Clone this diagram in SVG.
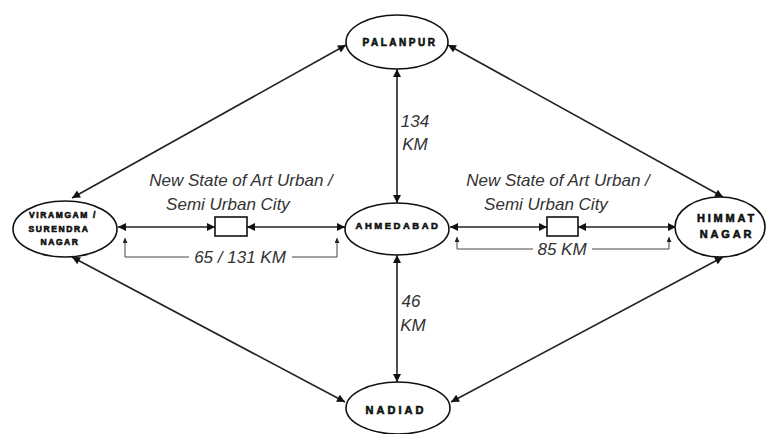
<svg xmlns="http://www.w3.org/2000/svg" width="768" height="434" viewBox="0 0 768 434">
<style>
.n{fill:#fff;stroke:#111;stroke-width:1.6}
.t{font-family:"Liberation Sans",Arial,sans-serif;font-weight:bold;fill:#111;stroke:#111;stroke-width:0.6;text-anchor:middle}
.l{font-family:"Liberation Sans",Arial,sans-serif;font-style:italic;fill:#333;font-size:17px;text-anchor:middle}
.c{fill:none;stroke:#222;stroke-width:1.6}
.d{fill:none;stroke:#444;stroke-width:1}
.b{fill:#fff;stroke:#111;stroke-width:1.6}
</style>
<defs>
<marker id="a" viewBox="0 0 10 10" refX="10" refY="5" markerWidth="9" markerHeight="8" markerUnits="userSpaceOnUse" orient="auto-start-reverse"><path d="M0,0 L10,5 L0,10 z" fill="#111"/></marker>
<marker id="s" viewBox="0 0 10 10" refX="10" refY="5" markerWidth="6" markerHeight="5" markerUnits="userSpaceOnUse" orient="auto-start-reverse"><path d="M0,0 L10,5 L0,10 z" fill="#222"/></marker>
</defs>
<g id="connectors">
<line class="c" x1="346" y1="45" x2="72" y2="198" marker-start="url(#a)" marker-end="url(#a)"/>
<line class="c" x1="448" y1="45" x2="723" y2="197" marker-start="url(#a)" marker-end="url(#a)"/>
<line class="c" x1="72" y1="257" x2="345" y2="402" marker-start="url(#a)" marker-end="url(#a)"/>
<line class="c" x1="723" y1="257" x2="451" y2="402" marker-start="url(#a)" marker-end="url(#a)"/>
<line class="c" x1="397" y1="69" x2="397" y2="203" marker-start="url(#a)" marker-end="url(#a)"/>
<line class="c" x1="397" y1="255" x2="397" y2="382" marker-start="url(#a)" marker-end="url(#a)"/>
<line class="c" x1="118" y1="227" x2="215" y2="227" marker-start="url(#a)" marker-end="url(#a)"/>
<line class="c" x1="247" y1="227" x2="345" y2="227" marker-start="url(#a)" marker-end="url(#a)"/>
<line class="c" x1="450" y1="227" x2="547" y2="227" marker-start="url(#a)" marker-end="url(#a)"/>
<line class="c" x1="578" y1="227" x2="676" y2="227" marker-start="url(#a)" marker-end="url(#a)"/>
<polyline class="d" points="189,257 125,257 125,238" marker-end="url(#s)"/>
<polyline class="d" points="292,257 337,257 337,238" marker-end="url(#s)"/>
<polyline class="d" points="533,249 457,249 457,237" marker-end="url(#s)"/>
<polyline class="d" points="592,249 669,249 669,237" marker-end="url(#s)"/>
<text class="l" x="240" y="263">65 / 131 KM</text>
<text class="l" x="562" y="255">85 KM</text>
<text class="l" x="415" y="127" font-size="15">134</text>
<text class="l" x="415" y="150" font-size="15">KM</text>
<text class="l" x="411" y="307" font-size="15">46</text>
<text class="l" x="413" y="331" font-size="15">KM</text>
<text class="l" x="241" y="186">New State of Art Urban /</text>
<text class="l" x="228" y="210">Semi Urban City</text>
<text class="l" x="558" y="186">New State of Art Urban /</text>
<text class="l" x="546" y="210">Semi Urban City</text>
</g>
<g id="box-left"><rect class="b" x="215" y="217" width="32" height="19"/></g>
<g id="box-right"><rect class="b" x="547" y="217" width="31" height="19"/></g>
<g id="palanpur"><ellipse class="n" cx="397" cy="42" rx="51" ry="27"/><text class="t" x="400" y="46" font-size="10" letter-spacing="2.5">PALANPUR</text></g>
<g id="ahmedabad"><ellipse class="n" cx="397" cy="229" rx="52" ry="26"/><text class="t" x="398" y="229" font-size="9.5" letter-spacing="2.5">AHMEDABAD</text></g>
<g id="nadiad"><ellipse class="n" cx="398" cy="408" rx="52" ry="26"/><text class="t" x="396" y="414" font-size="11" letter-spacing="3">NADIAD</text></g>
<g id="viramgam"><ellipse class="n" cx="65" cy="229" rx="52" ry="28"/><text class="t" x="63" y="218" font-size="8.5" letter-spacing="1.6">VIRAMGAM /</text><text class="t" x="59" y="232" font-size="8.5" letter-spacing="1.6">SURENDRA</text><text class="t" x="60" y="245" font-size="8.5" letter-spacing="1.6">NAGAR</text></g>
<g id="himmatnagar"><ellipse class="n" cx="720" cy="227" rx="45" ry="30"/><text class="t" x="727" y="222" font-size="11" letter-spacing="2.8">HIMMAT</text><text class="t" x="727" y="238" font-size="11" letter-spacing="2.8">NAGAR</text></g>
</svg>
